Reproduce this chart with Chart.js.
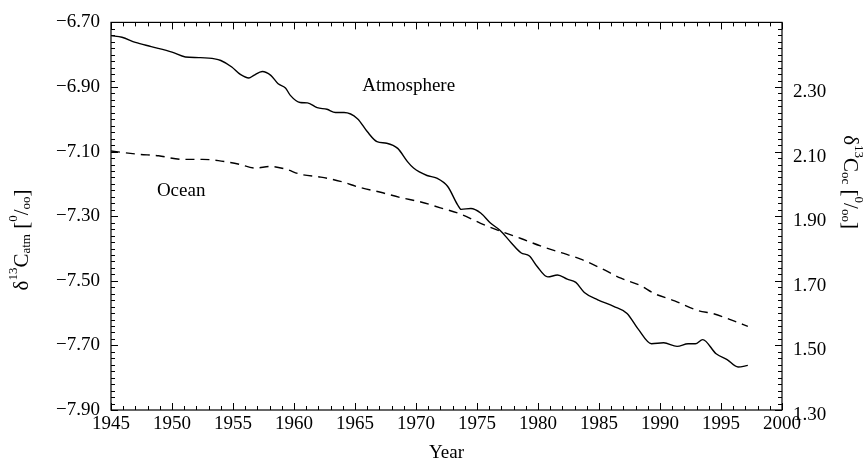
<!DOCTYPE html>
<html><head><meta charset="utf-8">
<script src="https://cdn.jsdelivr.net/npm/chart.js@4"></script>
<style>html,body{margin:0;padding:0;background:#fff}#wrap{width:866px;height:464px}</style>
</head><body><div id="wrap"><canvas id="c" width="866" height="464"></canvas></div>
<script>
// ---- data ----
const atmYears = [1945.0,1945.9,1947.0,1948.3,1950.0,1951.1,1952.2,1953.5,1954.0,1954.9,1955.6,1956.3,1956.7,1957.4,1958.1,1958.7,1959.3,1959.7,1960.5,1961.1,1961.9,1962.7,1963.4,1964.1,1965.2,1966.0,1966.8,1967.6,1968.5,1969.3,1969.8,1970.9,1971.7,1972.6,1973.4,1973.7,1974.5,1975.3,1976.1,1976.9,1977.8,1978.6,1979.3,1979.9,1980.8,1981.6,1982.4,1983.1,1983.8,1984.9,1986.2,1987.3,1988.2,1989.3,1990.3,1991.4,1992.3,1992.9,1993.5,1994.6,1995.5,1996.4,1997.2];
const atmValues = [-6.741,-6.746,-6.762,-6.775,-6.792,-6.807,-6.809,-6.813,-6.818,-6.838,-6.861,-6.872,-6.864,-6.852,-6.864,-6.890,-6.903,-6.926,-6.948,-6.949,-6.964,-6.969,-6.979,-6.979,-6.998,-7.038,-7.069,-7.074,-7.090,-7.131,-7.151,-7.174,-7.182,-7.208,-7.264,-7.279,-7.276,-7.290,-7.321,-7.344,-7.382,-7.413,-7.423,-7.454,-7.488,-7.482,-7.495,-7.505,-7.536,-7.559,-7.579,-7.601,-7.649,-7.695,-7.692,-7.703,-7.695,-7.695,-7.682,-7.726,-7.744,-7.767,-7.762];
const oceanYears = [1945.0,1947.2,1948.9,1950.8,1952.5,1953.8,1955.5,1956.8,1958.1,1959.3,1960.5,1962.2,1963.8,1965.4,1967.1,1968.7,1970.4,1972.0,1973.7,1975.3,1976.9,1978.6,1980.2,1981.9,1983.5,1985.1,1986.8,1988.4,1989.5,1991.2,1993.1,1994.4,1996.1,1997.2];
const oceanValues = [2.102,2.092,2.087,2.076,2.076,2.072,2.061,2.049,2.054,2.046,2.030,2.021,2.008,1.989,1.974,1.958,1.944,1.926,1.906,1.878,1.854,1.831,1.808,1.787,1.767,1.740,1.708,1.685,1.661,1.638,1.608,1.598,1.575,1.559];
const xTicks = [1945,1950,1955,1960,1965,1970,1975,1980,1985,1990,1995,2000];
const leftTicks = [-7.90,-7.70,-7.50,-7.30,-7.10,-6.90,-6.70];
const rightTicks = [1.30,1.50,1.70,1.90,2.10,2.30];
const curveLabels = [
  {text:'Atmosphere', year:1969.4, value:-6.897},
  {text:'Ocean', year:1950.75, value:-7.223}
];

const FONT = '"Liberation Serif","Times New Roman",serif';
const fmt = v => (v < 0 ? '\u2212' : '') + Math.abs(v).toFixed(2);

function drawRich(ctx, parts, size){
  // parts: [text, kind] kind: 'n','sup','sub'
  const small = Math.round(size*0.62);
  let w = 0;
  const items = parts.map(([t,k])=>{
    ctx.font = (k==='n'? size: small) + 'px ' + FONT;
    const m = ctx.measureText(t).width;
    const it = {t,k,w:m,x:w}; w += m; return it;
  });
  items.forEach(it=>{
    ctx.font = (it.k==='n'? size: small) + 'px ' + FONT;
    const dy = it.k==='sup' ? -size*0.38 : it.k==='sub' ? size*0.22 : 0;
    ctx.fillText(it.t, it.x - w/2, dy);
  });
}

const framePlugin = {
  id:'frame',
  afterDraw(chart){
    const {ctx, chartArea:a, scales} = chart;
    const xs = scales.x, yl = scales.y;
    ctx.save();
    ctx.strokeStyle = '#000'; ctx.lineWidth = 1.2;
    ctx.strokeRect(a.left, a.top, a.right-a.left, a.bottom-a.top);
    ctx.lineWidth = 1;
    ctx.beginPath();
    for (let i=0;i<=55;i++){
      const px = Math.round(xs.getPixelForValue(1945+i))+0.5;
      const L = i%5===0 ? 7 : 4;
      ctx.moveTo(px, a.bottom); ctx.lineTo(px, a.bottom-L);
      ctx.moveTo(px, a.top); ctx.lineTo(px, a.top+L);
    }
    for (let k=0;k<=60;k++){
      const py = Math.round(yl.getPixelForValue(-7.90+0.02*k))+0.5;
      const L = k%10===0 ? 7 : 4;
      ctx.moveTo(a.left, py); ctx.lineTo(a.left+L, py);
      ctx.moveTo(a.right, py); ctx.lineTo(a.right-L, py);
    }
    ctx.stroke();
    // curve labels
    ctx.fillStyle = '#000';
    ctx.font = '19px ' + FONT;
    ctx.textAlign = 'center'; ctx.textBaseline = 'middle';
    curveLabels.forEach(l=>{
      ctx.fillText(l.text, xs.getPixelForValue(l.year), yl.getPixelForValue(l.value));
    });
    // axis titles
    ctx.textAlign = 'left'; ctx.textBaseline = 'middle';
    ctx.save();
    ctx.translate(22, 240); ctx.rotate(-Math.PI/2);
    drawRich(ctx, [['\u03B4','n'],['13','sup'],['C','n'],['atm','sub'],[' [','n'],['0','sup'],['/','n'],['oo','sub'],[']','n']], 21);
    ctx.restore();
    ctx.save();
    ctx.translate(850, 182); ctx.rotate(Math.PI/2);
    drawRich(ctx, [['\u03B4','n'],['13','sup'],['C','n'],['oc','sub'],[' [','n'],['0','sup'],['/','n'],['oo','sub'],[']','n']], 21);
    ctx.restore();
    ctx.restore();
  }
};

new Chart(document.getElementById('c'), {
  type:'line',
  data:{
    datasets:[
      {label:'Atmosphere', data: atmYears.map((x,i)=>({x, y:atmValues[i]})), yAxisID:'y',
       borderColor:'#000', borderWidth:1.4, pointRadius:0, fill:false, cubicInterpolationMode:'monotone'},
      {label:'Ocean', data: oceanYears.map((x,i)=>({x, y:oceanValues[i]})), yAxisID:'y2',
       borderColor:'#000', borderWidth:1.4, borderDash:[9,6], pointRadius:0, fill:false, cubicInterpolationMode:'monotone'}
    ]
  },
  options:{
    responsive:false, animation:false, devicePixelRatio:1,
    layout:{padding:{top:20,left:0,right:0,bottom:0}},
    plugins:{legend:{display:false}, tooltip:{enabled:false}},
    scales:{
      x:{type:'linear', position:'bottom', min:1945, max:2000,
         afterBuildTicks: s => { s.ticks = xTicks.map(v=>({value:v})); },
         afterFit: s => { s.height = 54; },
         ticks:{color:'#000', font:{family:FONT, size:19}, padding:3, maxRotation:0, autoSkip:false, callback:v=>String(v)},
         grid:{display:false, drawTicks:false}, border:{display:false},
         title:{display:true, text:'Year', color:'#000', font:{family:FONT, size:19}, padding:{top:0,bottom:0}}},
      y:{type:'linear', position:'left', min:-7.9, max:-6.7,
         afterBuildTicks: s => { s.ticks = leftTicks.map(v=>({value:v})); },
         afterFit: s => { s.width = 111; },
         ticks:{color:'#000', font:{family:FONT, size:19}, padding:11, autoSkip:false, callback:v=>fmt(v)},
         grid:{display:false, drawTicks:false}, border:{display:false}},
      y2:{type:'linear', position:'right', min:1.3, max:2.5,
         afterBuildTicks: s => { s.ticks = rightTicks.map(v=>({value:v})); },
         afterFit: s => { s.width = 84; },
         ticks:{color:'#000', font:{family:FONT, size:19}, padding:11, labelOffset:5, autoSkip:false, callback:v=>fmt(v)},
         grid:{display:false, drawTicks:false}, border:{display:false}}
    }
  },
  plugins:[framePlugin]
});
</script>
</body></html>
